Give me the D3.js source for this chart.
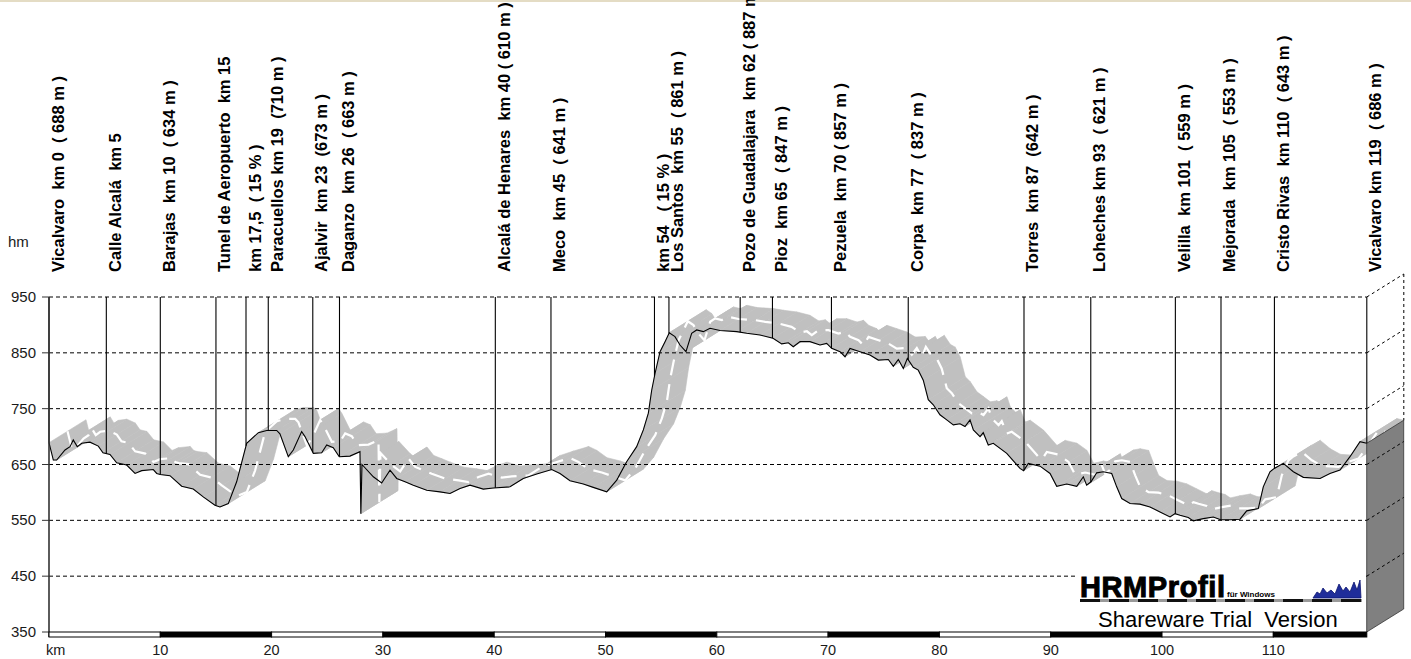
<!DOCTYPE html>
<html lang="es">
<head>
<meta charset="UTF-8" />
<script src="https://d3js.org/d3.v7.min.js"></script>
<style>
  body { margin: 0; background: #fff; }
  svg { display: block; font-family: "Liberation Sans", Arial, sans-serif; }
  .lbl { font-weight: bold; font-size: 16.5px; white-space: pre; }
</style>
</head>
<body>
<svg width="1411" height="659"></svg>
<script>
// profile: distance (km) and altitude (m)
var kms = [0,0.39,0.69,1.44,1.89,2.18,2.54,2.94,3.68,4.43,4.85,5.48,6.08,6.98,7.73,8.33,9.37,9.68,10.0,10.87,
  11.92,12.96,13.86,14.91,15.36,16.11,16.86,17.76,18.81,19.56,20.46,20.75,21.5,21.95,22.7,23.0,23.75,24.5,24.95,25.54,
  26.08,27.04,27.94,28.02,28.12,29.14,29.89,30.64,31.24,31.99,32.73,33.94,35.13,36.03,36.93,37.83,
  39.02,39.92,41.42,42.61,43.82,45.17,45.91,46.81,48.01,48.9,50.11,51.01,51.9,52.8,53.4,53.85,54.15,54.45,54.9,55.35,
  55.73,56.24,56.69,57.23,57.74,58.19,58.79,59.39,60.29,61.79,62.69,63.88,65.05,65.83,66.43,66.87,67.48,68.37,69.27,69.87,
  70.32,71.07,71.52,71.97,72.87,73.76,74.51,75.41,75.86,76.31,76.76,77.12,77.65,78.1,78.55,79.0,79.45,80.05,
  80.66,81.25,81.85,82.3,82.75,83.05,83.65,83.94,84.39,84.84,86.05,87.24,87.57,87.99,89.04,89.94,90.54,91.44,92.34,92.93,
  93.23,93.62,94.13,94.73,95.48,95.93,96.38,97.13,98.02,98.92,99.82,100.72,101.17,101.62,102.36,102.81,103.71,104.61,105.27,106.11,
  107.01,107.61,108.65,109.1,109.7,110.09,110.9,111.8,112.7,114.2,115.09,115.99,116.89,117.79,118.39];
var alt = [689,658,658,676,682,694,682,688,690,683,671,668,653,649,634,639,641,634,632,630,
  611,606,592,577,574,580,619,688,707,711,711,705,664,676,709,700,670,671,685,680,
  664,665,673,562,650,628,617,640,625,619,613,604,601,598,607,613,
  606,608,610,625,633,641,634,621,615,609,601,622,655,682,712,742,783,813,852,870,
  886,879,864,852,885,891,888,894,890,888,885,882,876,866,868,861,870,870,864,867,
  858,852,843,858,852,846,837,838,826,838,822,840,824,819,801,766,757,739,
  730,721,723,718,730,712,700,707,685,688,670,643,639,652,647,634,611,615,611,628,
  613,619,635,637,634,610,589,580,579,574,565,556,562,559,555,549,553,556,551,551,
  552,567,571,610,637,643,652,637,627,625,634,640,664,691,688];

// route points
var markKm = [0,5.15,10.0,15.0,17.7,19.7,23.7,26.1,40.1,45.1,54.4,55.7,62.1,65.0,70.3,77.2,87.6,93.6,101.2,105.3,110.1,118.4];
var markText = ["Vicalvaro  km 0  ( 688 m )","Calle Alcalá  km 5","Barajas  km 10  ( 634 m )","Tunel de Aeropuerto  km 15",
  "km 17,5  ( 15 % )","Paracuellos km 19  (710 m )","Ajalvir  km 23  (673 m )","Daganzo  km 26  ( 663 m )",
  "Alcalá de Henares  km 40 ( 610 m )","Meco  km 45  ( 641 m )","km 54   ( 15 % )","Los Santos  km 55  ( 861 m )",
  "Pozo de Guadalajara  km 62 ( 887 m )","Pioz  km 65  ( 847 m )","Pezuela  km 70 ( 857 m )","Corpa  km 77  ( 837 m )",
  "Torres  km 87  (642 m )","Loheches km 93  ( 621 m )","Velilla  km 101  ( 559 m )","Mejorada  km 105  ( 553 m )",
  "Cristo Rivas  km 110  ( 643 m )","Vicalvaro km 119  ( 686 m )"];

var yTicks = [350,450,550,650,750,850,950];
var xTicks = [10,20,30,40,50,60,70,80,90,100,110];
var barStops = [0,10,20,30,40,50,60,70,80,90,100,110,118.4];

var svg = d3.select("svg");
var x = d3.scaleLinear().domain([0,118.4]).range([49,1366.8]);
var y = d3.scaleLinear().domain([350,950]).range([632,297]);
var dx = 37, dy = -23;   // depth of the 3d look

var pts = kms.map(function(k,i){ return [x(k), y(alt[i])]; });

// thin strip at the top of the picture
svg.append("rect").attr("x",0).attr("y",0).attr("width",1411).attr("height",2).attr("fill","#e4dcc4");

// top surface of the extruded profile
var segs = d3.pairs(pts);
svg.append("g").selectAll("path").data(segs).enter().append("path")
  .attr("d", function(s){
    return "M"+s[0]+"L"+s[1]+"L"+[s[1][0]+dx,s[1][1]+dy]+"L"+[s[0][0]+dx,s[0][1]+dy]+"Z";
  })
  .attr("fill","#c0c0c0").attr("stroke","#c0c0c0").attr("stroke-width",0.6);

// light seam in the middle of the surface
svg.append("path")
  .attr("d", d3.line()(pts.map(function(p){ return [p[0]+dx/2, p[1]+dy/2]; })))
  .attr("fill","none").attr("stroke","#fff").attr("stroke-width",2.2).attr("stroke-dasharray","16,9");

// end cap on the right
var last = pts[pts.length-1];
svg.append("path")
  .attr("d","M"+last+"L"+[last[0]+dx,last[1]+dy]+"L"+[last[0]+dx,y(350)+dy]+"L"+[last[0],y(350)]+"Z")
  .attr("fill","#808080").attr("stroke","#333").attr("stroke-width",0.8);

// grid
svg.append("g").selectAll("line").data(yTicks.slice(1)).enter().append("line")
  .attr("x1",x(0)).attr("x2",x(118.4)).attr("y1",function(d){return y(d);}).attr("y2",function(d){return y(d);})
  .attr("stroke","#000").attr("stroke-dasharray","4,3");
svg.append("g").selectAll("line").data(yTicks.slice(1)).enter().append("line")
  .attr("x1",x(118.4)).attr("x2",x(118.4)+dx).attr("y1",function(d){return y(d);}).attr("y2",function(d){return y(d)+dy;})
  .attr("stroke","#000").attr("stroke-dasharray","3,3");
svg.append("line").attr("x1",x(118.4)+dx).attr("x2",x(118.4)+dx)
  .attr("y1",y(950)+dy).attr("y2",last[1]+dy)
  .attr("stroke","#000").attr("stroke-dasharray","3,3");

// altitude at a given km on the profile
function altAt(k){
  var i = d3.bisectLeft(kms,k);
  if (i<=0) return alt[0];
  if (i>=kms.length) return alt[alt.length-1];
  var t = (k-kms[i-1])/(kms[i]-kms[i-1]);
  return alt[i-1]+t*(alt[i]-alt[i-1]);
}

// logo box
svg.append("rect").attr("x",1078).attr("y",566).attr("width",288).attr("height",65).attr("fill","#fff");
svg.append("text").attr("x",1080).attr("y",597).text("HRMProfil")
  .attr("font-size",29).attr("font-weight","bold").attr("letter-spacing",0.6)
  .attr("stroke","#000").attr("stroke-width",1).attr("fill","#000");
svg.append("text").attr("x",1227).attr("y",597).text("für Windows")
  .attr("font-size",8).attr("font-weight","bold");
var icon = [[0,20],[4,14],[7,16],[10,10],[14,15],[18,12],[22,16],[26,6],[30,13],[33,9],[37,14],[41,4],[44,12],[47,2],[48,20]];
svg.append("path")
  .attr("d", d3.line()(icon.map(function(p){ return [1313+p[0], 578+p[1]]; }))+"Z")
  .attr("fill","#1f2d9a").attr("stroke","#0c1470").attr("stroke-width",0.8);
svg.append("line").attr("x1",1080).attr("x2",1362).attr("y1",600.5).attr("y2",600.5)
  .attr("stroke","#999").attr("stroke-width",3);
svg.append("line").attr("x1",1080).attr("x2",1362).attr("y1",600.5).attr("y2",600.5)
  .attr("stroke","#111").attr("stroke-width",3).attr("stroke-dasharray","20,9");
svg.append("text").attr("x",1098).attr("y",627).text("Shareware Trial  Version")
  .attr("font-size",22).style("white-space","pre");

// profile line
svg.append("path").attr("d", d3.line()(pts))
  .attr("fill","none").attr("stroke","#000").attr("stroke-width",1.1);

// route point lines and names
svg.append("g").selectAll("line").data(markKm).enter().append("line")
  .attr("x1",function(d){return x(d);}).attr("x2",function(d){return x(d);})
  .attr("y1",y(950)).attr("y2",function(d){return y(altAt(d));})
  .attr("stroke","#000").attr("stroke-width",1.1);
svg.append("g").selectAll("text").data(markKm).enter().append("text")
  .attr("class","lbl")
  .attr("transform",function(d){ return "translate("+(x(d)+14.5)+",272) rotate(-90)"; })
  .text(function(d,i){ return markText[i]; });

// y axis
svg.append("line").attr("x1",x(0)).attr("x2",x(0)).attr("y1",y(950)).attr("y2",637)
  .attr("stroke","#333").attr("stroke-width",1.6);
var yt = svg.append("g").selectAll("g").data(yTicks).enter().append("g");
yt.append("line").attr("x1",42).attr("x2",x(0)).attr("y1",function(d){return y(d);}).attr("y2",function(d){return y(d);})
  .attr("stroke","#333");
yt.append("text").attr("x",36).attr("y",function(d){return y(d)+5;}).attr("text-anchor","end")
  .attr("font-size",15).attr("fill","#1a1a1a").text(function(d){return d;});
svg.append("text").attr("x",8).attr("y",247).attr("font-size",15).attr("fill","#1a1a1a").text("hm");

// distance bar
svg.append("g").selectAll("rect").data(d3.pairs(barStops)).enter().append("rect")
  .attr("x",function(d){return x(d[0]);}).attr("width",function(d){return x(d[1])-x(d[0]);})
  .attr("y",632).attr("height",5)
  .attr("fill",function(d,i){ return i%2 ? "#000" : "#fff"; })
  .attr("stroke","#000").attr("stroke-width",1);
svg.append("g").selectAll("text").data(xTicks).enter().append("text")
  .attr("x",function(d){return x(d);}).attr("y",655).attr("text-anchor","middle")
  .attr("font-size",14.5).attr("fill","#1a1a1a").text(function(d){return d;});
svg.append("text").attr("x",46).attr("y",655).attr("font-size",14.5).attr("fill","#1a1a1a").text("km");
</script>
</body>
</html>
